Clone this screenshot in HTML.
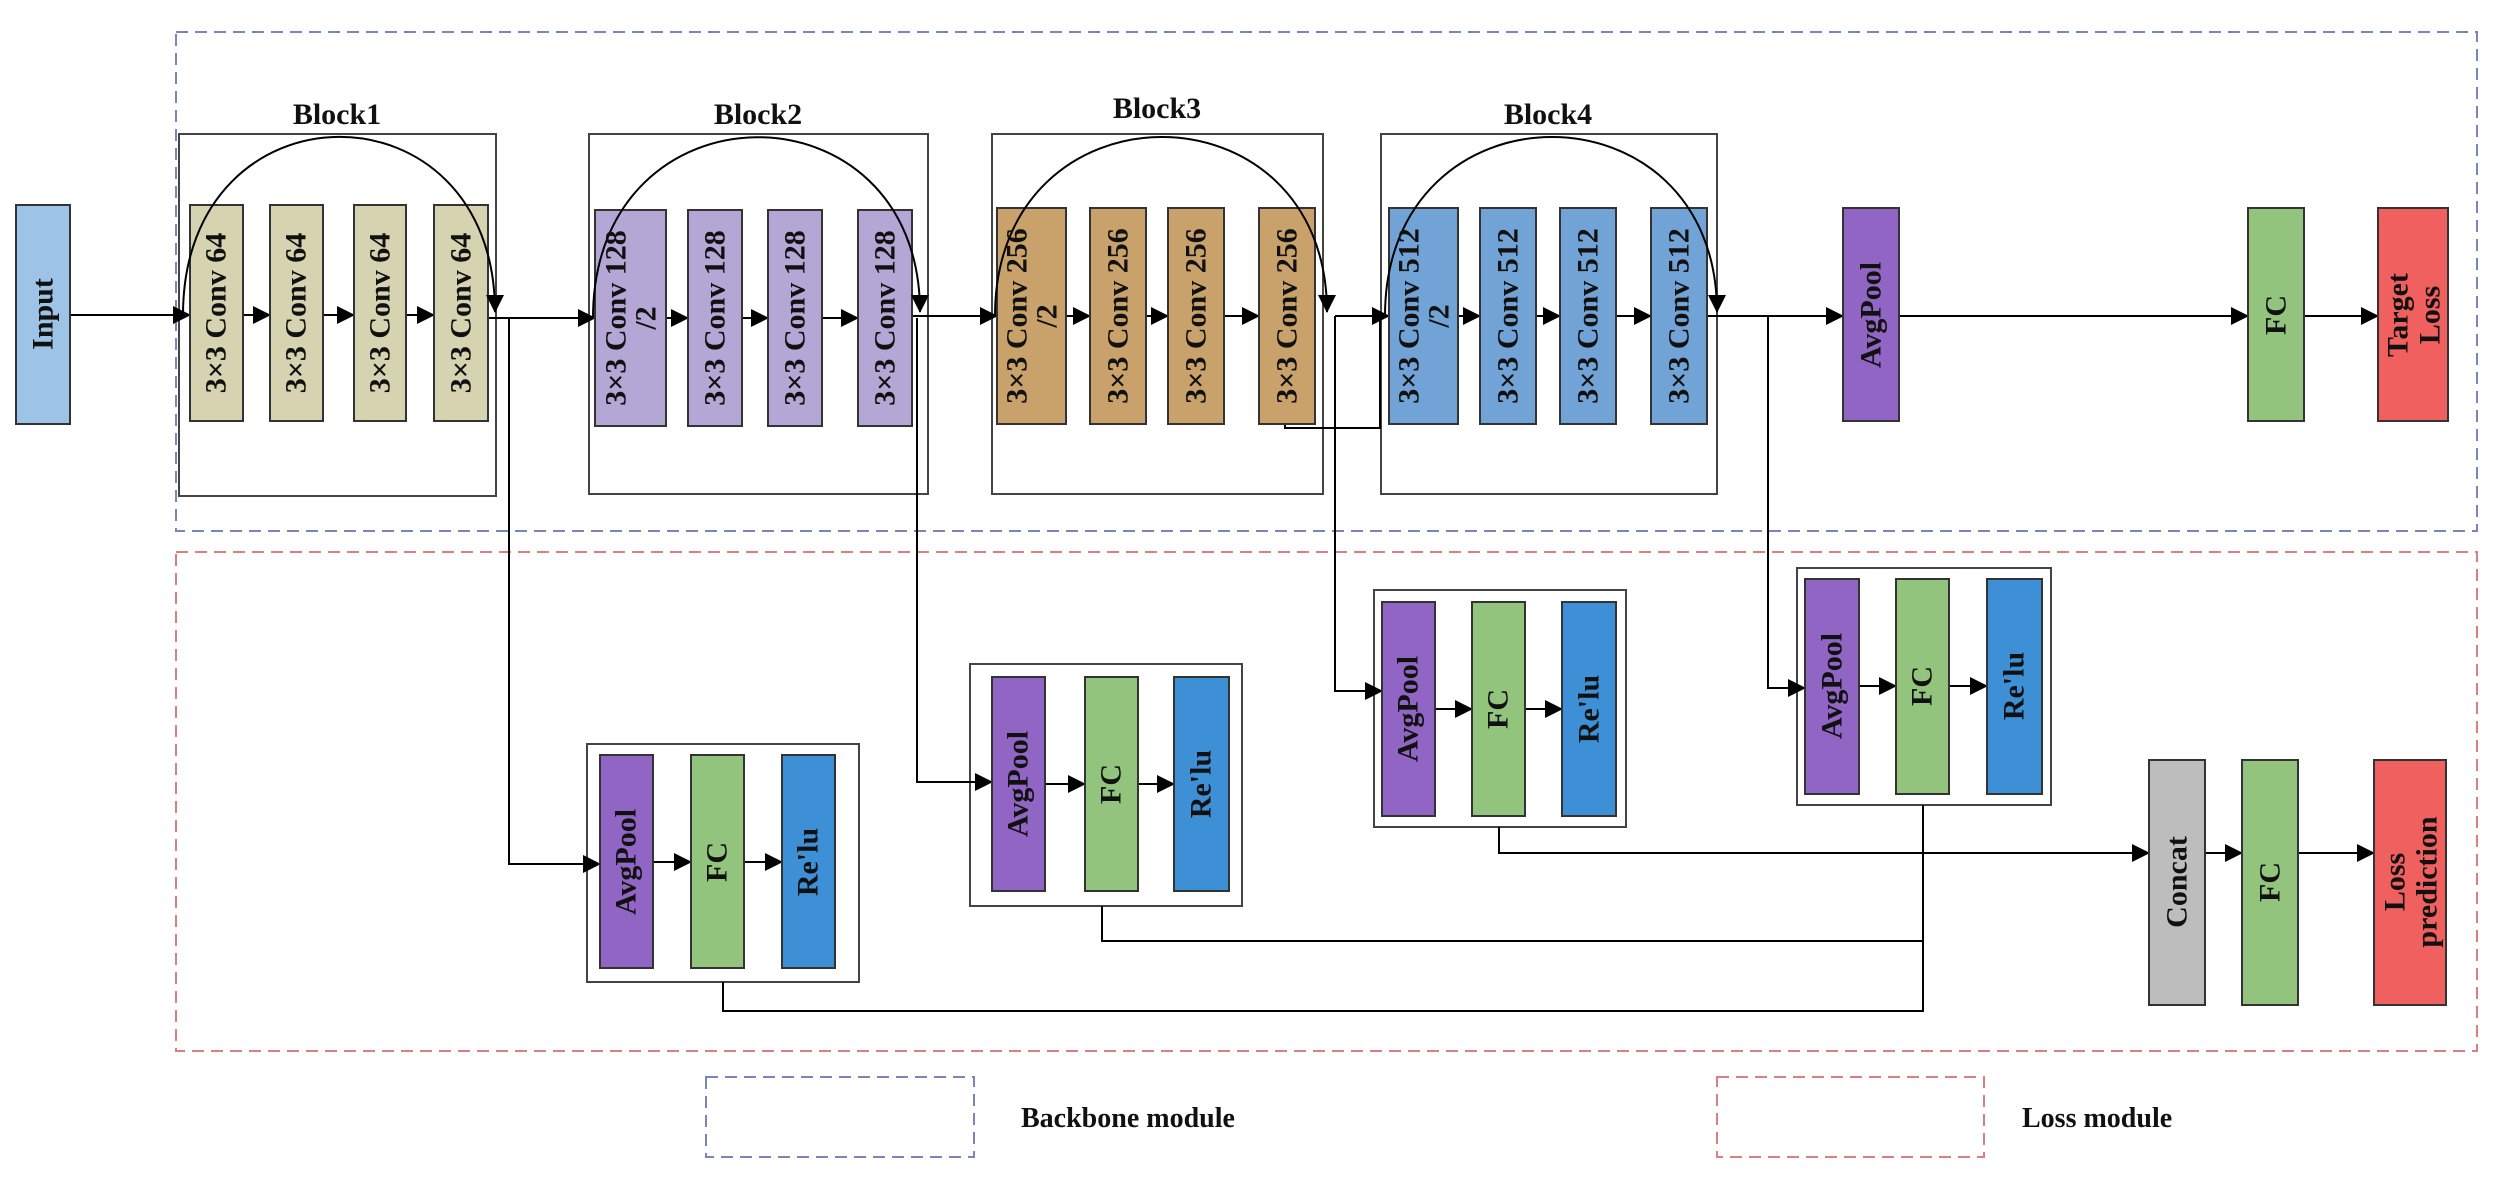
<!DOCTYPE html>
<html><head><meta charset="utf-8"><style>
html,body{margin:0;padding:0;background:#fff;}
svg{display:block;}
text{font-family:"Liberation Serif",serif;font-weight:bold;fill:#111;}
</style></head><body>
<svg width="2508" height="1189" viewBox="0 0 2508 1189" xmlns="http://www.w3.org/2000/svg">
<defs>
<marker id="b" markerWidth="18" markerHeight="18" refX="17" refY="9" orient="auto" markerUnits="userSpaceOnUse" viewBox="0 0 18 18">
<path d="M0,0 L18,9 L0,18 z" fill="#000"/></marker>
</defs>
<rect x="176" y="32" width="2301" height="499" fill="none" stroke="#7a86b8" stroke-width="2" stroke-dasharray="12,7"/>
<rect x="176" y="552" width="2301" height="499" fill="none" stroke="#d98080" stroke-width="2" stroke-dasharray="12,7"/>
<g fill="none" stroke="#444" stroke-width="2">
<rect x="179" y="134" width="317" height="362"/>
<rect x="589" y="134" width="339" height="360"/>
<rect x="992" y="134" width="331" height="360"/>
<rect x="1381" y="134" width="336" height="360"/>
</g>
<g fill="none" stroke="#444" stroke-width="2">
<rect x="587" y="744" width="272" height="238"/>
<rect x="970" y="664" width="272" height="242"/>
<rect x="1374" y="590" width="252" height="237"/>
<rect x="1797" y="568" width="254" height="237"/>
</g>
<g font-size="30" text-anchor="middle">
<text x="337" y="124">Block1</text>
<text x="758" y="124">Block2</text>
<text x="1157" y="118">Block3</text>
<text x="1548" y="124">Block4</text>
</g>
<g stroke="#000" stroke-width="2" fill="none" marker-end="url(#b)">
<line x1="70" y1="315" x2="190" y2="315"/>
<line x1="243" y1="315" x2="270" y2="315"/>
<line x1="323" y1="315" x2="354" y2="315"/>
<line x1="406" y1="315" x2="434" y2="315"/>
<line x1="488" y1="318" x2="595" y2="318"/>
<line x1="666" y1="318" x2="688" y2="318"/>
<line x1="742" y1="318" x2="768" y2="318"/>
<line x1="822" y1="318" x2="858" y2="318"/>
<line x1="912" y1="316" x2="997" y2="316"/>
<line x1="1066" y1="316" x2="1090" y2="316"/>
<line x1="1146" y1="316" x2="1168" y2="316"/>
<line x1="1224" y1="316" x2="1259" y2="316"/>
<line x1="1335" y1="316" x2="1389" y2="316"/>
<line x1="1458" y1="316" x2="1480" y2="316"/>
<line x1="1536" y1="316" x2="1560" y2="316"/>
<line x1="1616" y1="316" x2="1651" y2="316"/>
<line x1="1707" y1="316" x2="1843" y2="316"/>
<line x1="1899" y1="316" x2="2248" y2="316"/>
<line x1="2304" y1="316" x2="2378" y2="316"/>
<polyline points="496,318 509,318 509,864 600,864"/>
<polyline points="917,318 917,782 992,782"/>
<polyline points="1335,316 1335,691 1382,691"/>
<polyline points="1768,316 1768,688 1805,688"/>
<polyline points="1499,827 1499,853 2149,853"/>
<line x1="653" y1="862" x2="691" y2="862"/>
<line x1="744" y1="862" x2="782" y2="862"/>
<line x1="1045" y1="784" x2="1085" y2="784"/>
<line x1="1138" y1="784" x2="1174" y2="784"/>
<line x1="1435" y1="709" x2="1472" y2="709"/>
<line x1="1525" y1="709" x2="1562" y2="709"/>
<line x1="1859" y1="686" x2="1896" y2="686"/>
<line x1="1949" y1="686" x2="1987" y2="686"/>
<line x1="2205" y1="853" x2="2242" y2="853"/>
<line x1="2298" y1="853" x2="2374" y2="853"/>
</g>
<g stroke="#000" stroke-width="2" fill="none">
<polyline points="1285,424 1285,428 1380,428 1380,318"/>
<polyline points="1102,906 1102,941 1923,941"/>
<polyline points="723,982 723,1011 1923,1011 1923,805"/>
</g>
<g stroke="#333" stroke-width="2">
<rect x="16" y="205" width="54" height="219" fill="#9dc3e6"/>
<g fill="#d6d3b0">
<rect x="190" y="205" width="53" height="216"/><rect x="270" y="205" width="53" height="216"/>
<rect x="354" y="205" width="52" height="216"/><rect x="434" y="205" width="54" height="216"/>
</g>
<g fill="#b4a7d6">
<rect x="595" y="210" width="71" height="216"/><rect x="688" y="210" width="54" height="216"/>
<rect x="768" y="210" width="54" height="216"/><rect x="858" y="210" width="54" height="216"/>
</g>
<g fill="#c9a26b">
<rect x="997" y="208" width="69" height="216"/><rect x="1090" y="208" width="56" height="216"/>
<rect x="1168" y="208" width="56" height="216"/><rect x="1259" y="208" width="56" height="216"/>
</g>
<g fill="#72a3d6">
<rect x="1389" y="208" width="69" height="216"/><rect x="1480" y="208" width="56" height="216"/>
<rect x="1560" y="208" width="56" height="216"/><rect x="1651" y="208" width="56" height="216"/>
</g>
<g fill="#9065c4">
<rect x="1843" y="208" width="56" height="213"/>
<rect x="600" y="755" width="53" height="213"/><rect x="992" y="677" width="53" height="214"/>
<rect x="1382" y="602" width="53" height="214"/><rect x="1805" y="579" width="54" height="215"/>
</g>
<g fill="#93c47d">
<rect x="2248" y="208" width="56" height="213"/>
<rect x="691" y="755" width="53" height="213"/><rect x="1085" y="677" width="53" height="214"/>
<rect x="1472" y="602" width="53" height="214"/><rect x="1896" y="579" width="53" height="215"/>
<rect x="2242" y="760" width="56" height="245"/>
</g>
<g fill="#3d8fd6">
<rect x="782" y="755" width="53" height="213"/><rect x="1174" y="677" width="55" height="214"/>
<rect x="1562" y="602" width="54" height="214"/><rect x="1987" y="579" width="55" height="215"/>
</g>
<rect x="2378" y="208" width="70" height="213" fill="#f0605e"/>
<rect x="2149" y="760" width="56" height="245" fill="#bdbdbd"/>
<rect x="2374" y="760" width="72" height="245" fill="#f0605e"/>
</g>
<!-- skip arcs over boxes -->
<g stroke="#000" stroke-width="2" fill="none" marker-end="url(#b)">
<path d="M183 315 C183 78, 495 78, 495 312"/>
<path d="M593 318 C593 78, 920 78, 920 312"/>
<path d="M995 316 C995 78, 1327 78, 1327 312"/>
<path d="M1385 316 C1385 78, 1717 78, 1717 312"/>
</g>
<g font-size="30" text-anchor="middle" dominant-baseline="central">
<text transform="translate(43,314) rotate(-90)">Input</text>
<text transform="translate(216,313) rotate(-90)">3×3 Conv 64</text>
<text transform="translate(296,313) rotate(-90)">3×3 Conv 64</text>
<text transform="translate(380,313) rotate(-90)">3×3 Conv 64</text>
<text transform="translate(461,313) rotate(-90)">3×3 Conv 64</text>
<text transform="translate(616,318) rotate(-90)">3×3 Conv 128</text>
<text transform="translate(646,318) rotate(-90)">/2</text>
<text transform="translate(715,318) rotate(-90)">3×3 Conv 128</text>
<text transform="translate(795,318) rotate(-90)">3×3 Conv 128</text>
<text transform="translate(885,318) rotate(-90)">3×3 Conv 128</text>
<text transform="translate(1017,316) rotate(-90)">3×3 Conv 256</text>
<text transform="translate(1047,316) rotate(-90)">/2</text>
<text transform="translate(1118,316) rotate(-90)">3×3 Conv 256</text>
<text transform="translate(1196,316) rotate(-90)">3×3 Conv 256</text>
<text transform="translate(1287,316) rotate(-90)">3×3 Conv 256</text>
<text transform="translate(1409,316) rotate(-90)">3×3 Conv 512</text>
<text transform="translate(1439,316) rotate(-90)">/2</text>
<text transform="translate(1508,316) rotate(-90)">3×3 Conv 512</text>
<text transform="translate(1588,316) rotate(-90)">3×3 Conv 512</text>
<text transform="translate(1679,316) rotate(-90)">3×3 Conv 512</text>
<text transform="translate(1871,315) rotate(-90)">AvgPool</text>
<text transform="translate(2276,315) rotate(-90)">FC</text>
<text transform="translate(2398,315) rotate(-90)">Target</text>
<text transform="translate(2430,315) rotate(-90)">Loss</text>
<text transform="translate(626,862) rotate(-90)">AvgPool</text>
<text transform="translate(717,862) rotate(-90)">FC</text>
<text transform="translate(808,862) rotate(-90)">Re'lu</text>
<text transform="translate(1018,784) rotate(-90)">AvgPool</text>
<text transform="translate(1111,784) rotate(-90)">FC</text>
<text transform="translate(1201,784) rotate(-90)">Re'lu</text>
<text transform="translate(1408,709) rotate(-90)">AvgPool</text>
<text transform="translate(1498,709) rotate(-90)">FC</text>
<text transform="translate(1589,709) rotate(-90)">Re'lu</text>
<text transform="translate(1832,686) rotate(-90)">AvgPool</text>
<text transform="translate(1922,686) rotate(-90)">FC</text>
<text transform="translate(2014,686) rotate(-90)">Re'lu</text>
<text transform="translate(2177,882) rotate(-90)">Concat</text>
<text transform="translate(2270,882) rotate(-90)">FC</text>
<text transform="translate(2395,882) rotate(-90)">Loss</text>
<text transform="translate(2427,882) rotate(-90)">prediction</text>
</g>
<rect x="706" y="1077" width="268" height="80" fill="none" stroke="#7a86b8" stroke-width="2" stroke-dasharray="12,7"/>
<rect x="1717" y="1077" width="267" height="80" fill="none" stroke="#d98080" stroke-width="2" stroke-dasharray="12,7"/>
<text x="1021" y="1127" font-size="28">Backbone module</text>
<text x="2022" y="1127" font-size="28">Loss module</text>
</svg>
</body></html>
